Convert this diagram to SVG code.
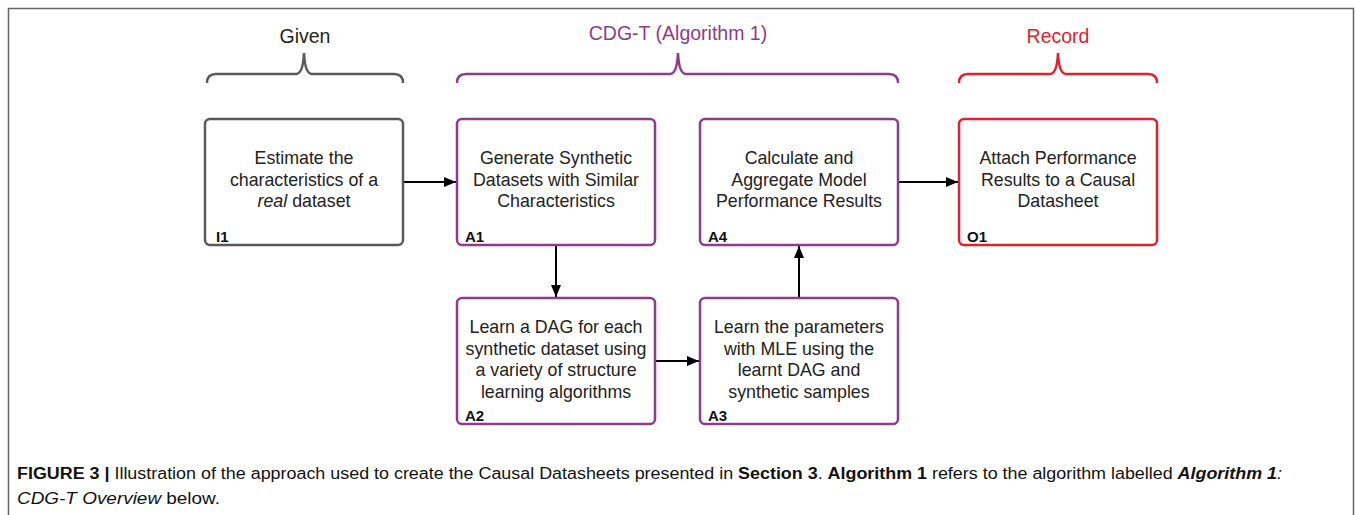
<svg xmlns="http://www.w3.org/2000/svg" width="1355" height="515" viewBox="0 0 1355 515">
<defs>
<style>
.box{fill:#fff;stroke-width:2.5}
.g{stroke:#595959}
.p{stroke:#8e3b8c}
.r{stroke:#e0222f}
.t{font-family:"Liberation Sans",Arial,sans-serif;font-size:17.8px;fill:#222;text-anchor:middle}
.id{font-family:"Liberation Sans",Arial,sans-serif;font-size:15px;font-weight:bold;fill:#111}
.brace{fill:none;stroke-width:2.5}
.hd{font-family:"Liberation Sans",Arial,sans-serif;font-size:19.5px;text-anchor:middle}
.conn{stroke:#000;stroke-width:2;fill:none}
.cap{font-family:"Liberation Sans",Arial,sans-serif;font-size:16px;fill:#111}
</style>
<marker id="ah2" viewBox="0 0 12 10" refX="12" refY="5" markerWidth="12" markerHeight="10" markerUnits="userSpaceOnUse" orient="auto">
<path d="M0,0 L12,5 L0,10 z" fill="#000"/>
</marker>
</defs>
<path d="M8.5,515 V8.5 H1353.5 V515" fill="none" stroke="#666" stroke-width="1.5"/>

<g id="brace-given">
<text class="hd" x="305" y="43" fill="#222">Given</text>
<path class="brace g" d="M207,83 Q207,74 216,74 H296 Q303,74 304,53 Q305,74 312,74 H394 Q403,74 403,83"/>
</g>
<g id="brace-cdgt">
<text class="hd" x="678" y="40" fill="#8e3b8c">CDG-T (Algorithm 1)</text>
<path class="brace p" d="M457,83 Q457,74 466,74 H670 Q677,74 678,53 Q679,74 686,74 H889 Q898,74 898,83"/>
</g>
<g id="brace-record">
<text class="hd" x="1058" y="43" fill="#e0222f">Record</text>
<path class="brace r" d="M959,83 Q959,74 968,74 H1050 Q1057,74 1058,53 Q1059,74 1066,74 H1148 Q1157,74 1157,83"/>
</g>

<g id="connectors">
<line class="conn" x1="404" y1="182" x2="456" y2="182" marker-end="url(#ah2)"/>
<line class="conn" x1="899" y1="182" x2="958" y2="182" marker-end="url(#ah2)"/>
<line class="conn" x1="556" y1="246" x2="556" y2="297" marker-end="url(#ah2)"/>
<line class="conn" x1="656" y1="361" x2="699" y2="361" marker-end="url(#ah2)"/>
<line class="conn" x1="799" y1="297" x2="799" y2="246" marker-end="url(#ah2)"/>
</g>

<g id="I1">
<rect class="box g" x="205" y="119" width="198" height="126" rx="5"/>
<text class="t" x="304" y="164">Estimate the</text>
<text class="t" x="304" y="186">characteristics of a</text>
<text class="t" x="304" y="207"><tspan font-style="italic">real</tspan> dataset</text>
<text class="id" x="216" y="242">I1</text>
</g>
<g id="A1">
<rect class="box p" x="457" y="119" width="198" height="126" rx="5"/>
<text class="t" x="556" y="164">Generate Synthetic</text>
<text class="t" x="556" y="186">Datasets with Similar</text>
<text class="t" x="556" y="207">Characteristics</text>
<text class="id" x="465" y="242">A1</text>
</g>
<g id="A4">
<rect class="box p" x="700" y="119" width="198" height="126" rx="5"/>
<text class="t" x="799" y="164">Calculate and</text>
<text class="t" x="799" y="186">Aggregate Model</text>
<text class="t" x="799" y="207">Performance Results</text>
<text class="id" x="708" y="242">A4</text>
</g>
<g id="O1">
<rect class="box r" x="959" y="119" width="198" height="126" rx="5"/>
<text class="t" x="1058" y="164">Attach Performance</text>
<text class="t" x="1058" y="186">Results to a Causal</text>
<text class="t" x="1058" y="207">Datasheet</text>
<text class="id" x="967" y="242">O1</text>
</g>
<g id="A2">
<rect class="box p" x="457" y="298" width="198" height="126" rx="5"/>
<text class="t" x="556" y="333">Learn a DAG for each</text>
<text class="t" x="556" y="355">synthetic dataset using</text>
<text class="t" x="556" y="376">a variety of structure</text>
<text class="t" x="556" y="398">learning algorithms</text>
<text class="id" x="465" y="421">A2</text>
</g>
<g id="A3">
<rect class="box p" x="700" y="298" width="198" height="126" rx="5"/>
<text class="t" x="799" y="333">Learn the parameters</text>
<text class="t" x="799" y="355">with MLE using the</text>
<text class="t" x="799" y="376">learnt DAG and</text>
<text class="t" x="799" y="398">synthetic samples</text>
<text class="id" x="708" y="421">A3</text>
</g>

<g id="caption">
<text class="cap" x="17" y="479" textLength="1265" lengthAdjust="spacingAndGlyphs"><tspan font-weight="bold">FIGURE 3 | </tspan>Illustration of the approach used to create the Causal Datasheets presented in <tspan font-weight="bold">Section 3</tspan>. <tspan font-weight="bold">Algorithm 1</tspan> refers to the algorithm labelled <tspan font-weight="bold" font-style="italic">Algorithm 1</tspan><tspan font-style="italic">:</tspan></text>
<text class="cap" x="17" y="504" textLength="203" lengthAdjust="spacingAndGlyphs"><tspan font-style="italic">CDG-T Overview</tspan> below.</text>
</g>
</svg>
